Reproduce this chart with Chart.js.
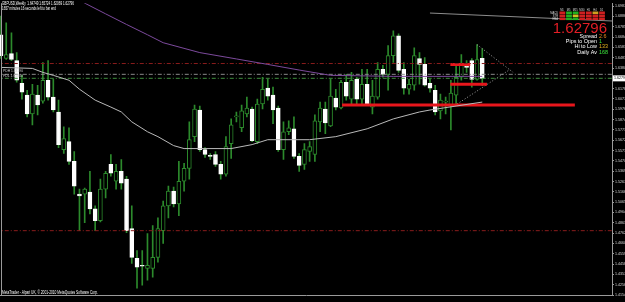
<!DOCTYPE html>
<html>
<head>
<meta charset="utf-8">
<script src="https://cdn.jsdelivr.net/npm/chart.js@4.4.1/dist/chart.umd.min.js"></script>
<style>
  html, body { margin: 0; padding: 0; background: #000; }
  #wrap { width: 625px; height: 302px; }
</style>
</head>
<body>
<div id="wrap"><canvas id="mtChart" width="625" height="302"></canvas></div>
<script>
// GBPUSD weekly, one entry per bar (bar 0 = week of 15 Nov 2009)
const dateLabels = ['15 Nov 2009','13 Dec 2009','10 Jan 2010','7 Feb 2010','7 Mar 2010','4 Apr 2010','2 May 2010','30 May 2010','27 Jun 2010','25 Jul 2010','22 Aug 2010','19 Sep 2010','17 Oct 2010','14 Nov 2010','12 Dec 2010','9 Jan 2011','6 Feb 2011','6 Mar 2011','3 Apr 2011','1 May 2011','29 May 2011','26 Jun 2011','24 Jul 2011','21 Aug 2011'];

const opens = [1.6707,1.6474,1.6522,1.6454,1.6231,1.6115,1.5931,1.6115,1.6057,1.6261,1.6096,1.5950,1.5581,1.5659,1.5465,1.5145,1.5145,1.5164,1.5000,1.4883,1.5193,1.5436,1.5271,1.5368,1.5291,1.4806,1.4514,1.4447,1.4417,1.4417,1.4524,1.4786,1.5029,1.5174,1.5048,1.5271,1.5397,1.5708,1.5969,1.5581,1.5523,1.5533,1.5436,1.5339,1.5640,1.5902,1.5795,1.5931,1.5979,1.5659,1.6028,1.6183,1.6115,1.5989,1.5581,1.5756,1.5785,1.5514,1.5436,1.5562,1.5533,1.5853,1.5979,1.5814,1.6086,1.5989,1.6241,1.6076,1.6270,1.6076,1.6222,1.5998,1.6096,1.6367,1.6319,1.6503,1.6697,1.6367,1.6173,1.6212,1.6474,1.6416,1.6231,1.6163,1.5960,1.6047,1.6018,1.6115,1.6290,1.6406,1.6454,1.6270,1.64749];
const highs = [1.6891,1.6823,1.6726,1.6532,1.6309,1.6163,1.6222,1.6212,1.6435,1.6454,1.6270,1.6066,1.5805,1.5795,1.5562,1.5193,1.5203,1.5368,1.5029,1.5291,1.5368,1.5533,1.5436,1.5484,1.5320,1.5029,1.4592,1.4592,1.4757,1.4835,1.4912,1.5077,1.5223,1.5213,1.5465,1.5446,1.5853,1.6018,1.6008,1.5601,1.5543,1.5562,1.5465,1.5708,1.5882,1.5950,1.6018,1.6096,1.5998,1.6076,1.6290,1.6270,1.6193,1.6008,1.5853,1.5863,1.5902,1.5543,1.5640,1.5659,1.5921,1.6047,1.6047,1.6270,1.6173,1.6261,1.6319,1.6338,1.6290,1.6367,1.6367,1.6261,1.6435,1.6406,1.6600,1.6745,1.6716,1.6435,1.6270,1.6580,1.6532,1.6484,1.6270,1.6212,1.6125,1.6096,1.6261,1.6416,1.6513,1.6454,1.6474,1.6610,1.65724];
const lows = [1.6474,1.6464,1.6454,1.6241,1.6076,1.5902,1.5824,1.5921,1.6037,1.6066,1.5950,1.5601,1.5543,1.5436,1.5145,1.4786,1.4864,1.4951,1.4786,1.4873,1.5106,1.5320,1.5193,1.5193,1.4767,1.4466,1.4223,1.4252,1.4301,1.4330,1.4476,1.4660,1.4912,1.5019,1.4932,1.5174,1.5291,1.5659,1.5562,1.5504,1.5484,1.5417,1.5291,1.5320,1.5494,1.5853,1.5756,1.5902,1.5659,1.5640,1.5979,1.6066,1.5834,1.5562,1.5484,1.5727,1.5494,1.5368,1.5387,1.5465,1.5465,1.5756,1.5737,1.5805,1.5969,1.5979,1.6066,1.6028,1.6028,1.6028,1.6018,1.5931,1.6076,1.6290,1.6163,1.6435,1.6338,1.6125,1.6125,1.6163,1.6222,1.6202,1.6144,1.5921,1.5882,1.5931,1.5775,1.6028,1.6261,1.6338,1.6193,1.6261,1.62069];
const closes = [1.6503,1.6513,1.6464,1.6261,1.6144,1.5931,1.6125,1.6018,1.6261,1.6096,1.5969,1.5630,1.5688,1.5465,1.5223,1.5126,1.5193,1.5000,1.4883,1.5193,1.5349,1.5349,1.5368,1.5252,1.4786,1.4524,1.4427,1.4437,1.4447,1.4524,1.4806,1.5029,1.5174,1.5048,1.5271,1.5397,1.5678,1.5979,1.5581,1.5533,1.5514,1.5436,1.5339,1.5610,1.5824,1.5911,1.5960,1.5989,1.5669,1.6028,1.6173,1.6105,1.5969,1.5581,1.5756,1.5795,1.5514,1.5426,1.5581,1.5610,1.5863,1.5989,1.5843,1.6105,1.5998,1.6241,1.6105,1.6261,1.6076,1.6222,1.6028,1.6105,1.6367,1.6319,1.6503,1.6697,1.6357,1.6183,1.6222,1.6503,1.6416,1.6212,1.6183,1.5950,1.6066,1.6057,1.6134,1.6290,1.6406,1.6387,1.6270,1.6464,1.62796];

// moving averages read at [bar, price]
const slowMA = [[14,1.7071],[16,1.7017],[20,1.6912],[24,1.6808],[28,1.6707],[31,1.6629],[38,1.6532],[45,1.6470],[51,1.6416],[57,1.6361],[63,1.6309],[75,1.6299],[92,1.6299]];
const fastMA = [[0,1.6387],[6,1.6377],[8,1.6338],[10,1.6309],[13,1.6261],[15,1.6173],[18,1.6066],[21,1.5998],[23,1.5950],[25,1.5853],[28,1.5756],[30,1.5708],[33,1.5620],[35,1.5591],[38,1.5591],[44,1.5591],[48,1.5630],[51,1.5678],[59,1.5678],[64,1.5708],[70,1.5785],[75,1.5882],[80,1.5950],[82,1.5969],[87,1.6008],[92,1.6047]];

// horizontal levels across the whole chart
const redLevels = [1.6425, 1.4786];
const greyLevel = 1.6319;
const bidLevel = 1.6280;
// hand drawn lines: [bar from, bar to, price from, price to]
const redSegments = [[65.2,109.7,1.6018,1.6018],[85.9,89.7,1.6416,1.6416],[85.9,92.9,1.6222,1.6222]];
const triangleLines = [[91.0,97.9,1.6610,1.6338],[87.2,97.3,1.6028,1.6367]];
const topTrend = [82, 116.8, 1.6920, 1.6842];

const priceTicks = [1.69877,1.68865,1.67854,1.66842,1.65830,1.64819,1.63807,1.62795,1.61783,1.60772,1.59760,1.58748,1.57737,1.56725,1.55713,1.54702,1.53690,1.52678,1.51666,1.50655,1.49643,1.48631,1.47620,1.46608,1.45596,1.44585,1.43573,1.42561,1.41549];

const bars = opens.map((o, i) => i);
const green = '#2c8a2c';
const isBull = bars.map(i => closes[i] >= opens[i]);

const seg = (a) => [{x: a[0], y: a[2]}, {x: a[1], y: a[3]}];
const flat = (p) => [{x: -1, y: p}, {x: 120, y: p}];

const datasets = [
  { type: 'line', data: fastMA.map(p => ({x: p[0], y: p[1]})), borderColor: '#b9b9b9', borderWidth: 1, pointRadius: 0, order: 0 },
  { type: 'line', data: slowMA.map(p => ({x: p[0], y: p[1]})), borderColor: '#7c4a9c', borderWidth: 1, pointRadius: 0, order: 0 },
  { type: 'line', data: seg(topTrend), borderColor: '#8c8c8c', borderWidth: 1, pointRadius: 0, order: 0 },
  ...redLevels.map(p => ({ type: 'line', data: flat(p), borderColor: '#8a1c1c', borderWidth: 1, borderDash: [4,2,1,2], pointRadius: 0, order: 0 })),
  { type: 'line', data: flat(greyLevel), borderColor: '#8a8a8a', borderWidth: 1, borderDash: [4,2,1,2], pointRadius: 0, order: 0 },
  { type: 'line', data: flat(bidLevel), borderColor: '#3f8f3f', borderWidth: 1, borderDash: [4,2,1,2], pointRadius: 0, order: 0 },
  ...redSegments.map(s => ({ type: 'line', data: seg(s), borderColor: '#e8161c', borderWidth: 3, pointRadius: 0, order: 0 })),
  ...triangleLines.map(s => ({ type: 'line', data: seg(s), borderColor: '#a0a0a0', borderWidth: 1, borderDash: [1,2], pointRadius: 0, order: 0 })),
  { type: 'bar', data: bars.map(i => ({x: i, y: [opens[i], closes[i]]})),
    backgroundColor: bars.map(i => isBull[i] ? '#000' : '#fff'),
    borderColor: bars.map(i => isBull[i] ? green : '#fff'),
    borderWidth: 1, borderSkipped: false, barThickness: 4, minBarLength: 1, grouped: false, order: 1 },
  { type: 'bar', data: bars.map(i => ({x: i, y: [lows[i], highs[i]]})),
    backgroundColor: green, barThickness: 1, grouped: false, order: 2 }
];

const tiny = { family: 'Liberation Sans', size: 3.6 };

const overlay = {
  id: 'overlay',
  beforeDraw(chart) {
    const c = chart.ctx;
    c.save();
    c.fillStyle = '#000';
    c.fillRect(0, 0, chart.width, chart.height);
    c.restore();
  },
  afterDraw(chart) {
    const c = chart.ctx, a = chart.chartArea, y = chart.scales.y;
    c.save();
    // left frame line
    c.strokeStyle = '#9a9a9a';
    c.lineWidth = 1;
    c.beginPath(); c.moveTo(a.left + 1.5, a.top); c.lineTo(a.left + 1.5, a.bottom); c.stroke();

    // current price box on the axis
    const py = y.getPixelForValue(closes[closes.length - 1]);
    c.fillStyle = '#fff';
    c.fillRect(a.right + 1, py - 3, 13, 6);
    c.fillStyle = '#000';
    c.font = '3.6px "Liberation Sans"';
    c.textBaseline = 'middle';
    c.fillText(closes[closes.length - 1].toFixed(5), a.right + 2, py);

    // top-left caption
    c.fillStyle = '#fff';
    c.textBaseline = 'alphabetic';
    c.font = '4.5px "Liberation Sans"';
    c.fillText('GBPUSD,Weekly  1.64749 1.65724 1.62069 1.62796', 2, 5, 72);
    c.fillText('1657 minutes 16 seconds left to bar end', 2, 9.5, 54);
    c.fillText('MetaTrader - Alpari UK, \u00a9 2001-2010 MetaQuotes Software Corp.', 2, 294, 96);

    // level labels on the left
    c.font = '3.6px "Liberation Sans"';
    c.fillStyle = '#cfcfcf';
    c.fillText('PDH 1.63190', 3, 72, 20);
    c.fillText('PDL 1.62800', 3, 76.5, 20);

    // info panel
    c.font = '15px "Liberation Sans"';
    c.fillStyle = '#e41e26';
    c.textAlign = 'right';
    c.fillText('1.62796', 607, 33);
    c.font = '5.4px "Liberation Sans"';
    const rows = [['Spread', '2.6', '#f08c1e'], ['Pips to Open', '1', '#3ce63c'], ['Hi to Low', '133', '#e6b41e'], ['Daily Av', '168', '#3ce63c']];
    rows.forEach((r, k) => {
      c.textAlign = 'right';
      c.fillStyle = '#fff';
      c.fillText(r[0], 597, 38 + k * 5.2);
      c.textAlign = 'left';
      c.fillStyle = r[2];
      c.fillText(r[1], 599, 38 + k * 5.2);
    });

    // trend table
    const cols = ['M1','M5','M15','M30','H1','H4','D1'];
    const cells = [
      ['#d02020','#20b020','#20b020','#d02020','#d02020','#d0a020','#d02020'],
      ['#d02020','#20b020','#d0c020','#d02020','#d02020','#d02020','#d02020'],
      ['#d02020','#20b020','#20b020','#d02020','#d02020','#d02020','#d02020']
    ];
    c.font = '2.6px "Liberation Sans"';
    c.textAlign = 'center';
    c.fillStyle = '#ddd';
    cols.forEach((t, k) => c.fillText(t, 562 + k * 6.6, 10.5));
    ['MACD','STR','EMA'].forEach((t, r) => { c.textAlign = 'right'; c.fillText(t, 558, 13.5 + r * 3); });
    cells.forEach((row, r) => row.forEach((col, k) => {
      c.fillStyle = col;
      c.fillRect(559.5 + k * 6.6, 11.5 + r * 3, 5.8, 2.6);
    }));
    c.restore();
  }
};

new Chart(document.getElementById('mtChart'), {
  type: 'bar',
  data: { datasets },
  options: {
    responsive: false,
    animation: false,
    devicePixelRatio: 1,
    layout: { padding: 0 },
    plugins: { legend: { display: false }, tooltip: { enabled: false } },
    scales: {
      x: {
        type: 'linear', min: -0.19, max: 116.8, offset: false,
        grid: { display: false },
        border: { display: true, color: '#9a9a9a' },
        afterBuildTicks: (s) => { s.ticks = dateLabels.map((d, k) => ({ value: k * 4 })); },
        afterFit: (s) => { s.height = 7; },
        ticks: { autoSkip: false, maxRotation: 0, align: 'start', padding: 1, color: '#d8d8d8', font: tiny,
          callback: (v) => dateLabels[Math.round(v / 4)] }
      },
      y: {
        position: 'right', min: 1.41553, max: 1.70168,
        grid: { display: true, drawOnChartArea: false, drawTicks: true, tickLength: 2, color: '#9a9a9a' },
        border: { display: true, color: '#9a9a9a' },
        afterBuildTicks: (s) => { s.ticks = priceTicks.map(v => ({ value: v })); },
        afterFit: (s) => { s.width = 13; },
        ticks: { autoSkip: false, padding: 1, color: '#d8d8d8', font: tiny, callback: (v) => v.toFixed(5) }
      }
    }
  },
  plugins: [overlay]
});
</script>
</body>
</html>
